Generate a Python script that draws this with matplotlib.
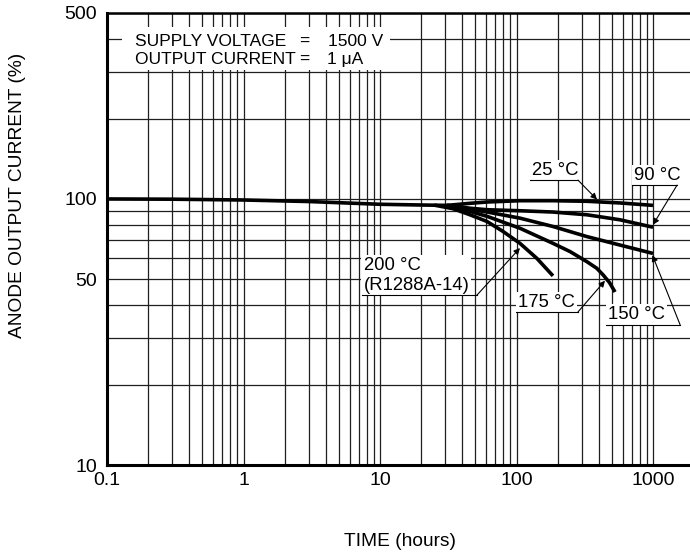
import numpy as np
import matplotlib
matplotlib.use("Agg")
import matplotlib.pyplot as plt
from matplotlib.patches import Rectangle

plt.rcParams['font.family'] = ['Liberation Sans', 'DejaVu Sans']

# common part of all curves (hours, % of initial)
trunk_x = [0.1, 0.3, 1, 3, 10, 20, 31]
trunk_y = [100, 99.8, 99.1, 97.8, 95.5, 94.9, 94.6]

t25_x = [31, 45.6, 61, 106, 185, 328, 573, 1000]
t25_y = [94.6, 96.3, 97.4, 98.5, 98.5, 98.0, 96.6, 94.6]

t90_x = [31, 45.6, 61, 106, 185, 328, 573, 1000]
t90_y = [94.6, 92.3, 91.1, 90.3, 89.3, 87.2, 83.5, 78.3]

t150_x = [31, 45.6, 61, 106, 185, 328, 573, 1000]
t150_y = [94.6, 91.5, 89.3, 84.7, 78.8, 72.2, 67.1, 62.4]

t175_x = [31, 45.6, 61, 106, 185, 247, 328, 387, 430, 480, 527]
t175_y = [94.6, 89.8, 86.0, 77.6, 68.1, 63.4, 58.1, 54.9, 51.9, 48.5, 44.7]

t200_x = [25, 34.3, 45.6, 60.8, 79.6, 106, 141, 185]
t200_y = [94.8, 91.9, 87.2, 82.3, 75.5, 68.1, 59.8, 51.4]

x_ticks = [0.1, 1, 10, 100, 1000]
x_ticklabels = ["0.1", "1", "10", "100", "1000"]
y_ticks = [10, 50, 100, 500]
y_ticklabels = ["10", "50", "100", "500"]

FS = 12.5       # conditions text
FS_TICK = 14
FS_AX = 13.8
FS_LAB = 13.3   # curve labels

fig = plt.figure(figsize=(6.9, 5.54), dpi=100)
ax = fig.add_axes([107 / 690, 89 / 554, 583 / 690, 452 / 554])
ax.set_xscale("log")
ax.set_yscale("log")

# grid lines on every 1..9 subdivision
ax.set_xticks(x_ticks)
ax.set_xticklabels(x_ticklabels, fontsize=FS_TICK)
ax.set_xticks([m * 10.0 ** e for e in range(-1, 4) for m in range(2, 10)], minor=True)
ax.set_yticks(y_ticks)
ax.set_yticklabels(y_ticklabels, fontsize=FS_TICK)
ax.set_yticks([20, 30, 40, 60, 70, 80, 90, 200, 300, 400], minor=True)
ax.yaxis.set_minor_formatter(matplotlib.ticker.NullFormatter())
ax.xaxis.set_minor_formatter(matplotlib.ticker.NullFormatter())
ax.set_xlim(0.1, 10 ** (3 + 37 / 136.5))
ax.set_ylim(10, 500)
ax.tick_params(which="both", length=0)
ax.tick_params(axis="x", pad=5)
ax.tick_params(axis="y", pad=7)
ax.grid(which="both", color="0.12", lw=0.9)
ax.set_axisbelow(True)

for s in ["left", "bottom"]:
    ax.spines[s].set_linewidth(2.2)
ax.spines["top"].set_linewidth(1.8)
ax.spines["right"].set_visible(False)

curve_kw = dict(color="black", lw=2.6, solid_capstyle="butt", solid_joinstyle="round", zorder=4)
ax.plot(trunk_x, trunk_y, **curve_kw)
for xs, ys in [(t25_x, t25_y), (t90_x, t90_y), (t150_x, t150_y),
               (t175_x, t175_y), (t200_x, t200_y)]:
    ax.plot(xs, ys, **curve_kw)

# conditions box
ax.add_patch(Rectangle((0.026, 0.874), 0.46, 0.095, transform=ax.transAxes,
                       facecolor="white", edgecolor="none", zorder=2))
tr = ax.transAxes
ax.text(0.048, 0.937, "SUPPLY VOLTAGE", transform=tr, fontsize=FS, va="center", zorder=3)
ax.text(0.048, 0.897, "OUTPUT CURRENT", transform=tr, fontsize=FS, va="center", zorder=3)
ax.text(0.330, 0.937, "=", transform=tr, fontsize=FS, va="center", zorder=3)
ax.text(0.330, 0.897, "=", transform=tr, fontsize=FS, va="center", zorder=3)
ax.text(0.379, 0.937, "1500 V", transform=tr, fontsize=FS, va="center", zorder=3)
ax.text(0.377, 0.897, "1 \u03bcA", transform=tr, fontsize=FS, va="center", zorder=3)


def on_curve(xs, ys, x):
    return 10 ** np.interp(np.log10(x), np.log10(xs), np.log10(ys))


def label(text, x0, x1, yu, target):
    # text sitting on an underline, leader from the underline end to the curve
    ax.text(x0 * 1.03, yu * 1.012, text, fontsize=FS_LAB, ha="left", va="bottom",
            zorder=5, bbox=dict(facecolor="white", edgecolor="none", pad=1.5))
    ax.plot([x0, x1], [yu, yu], color="black", lw=0.8, zorder=5)
    ax.annotate("", xy=target, xytext=(x1, yu), zorder=5,
                arrowprops=dict(arrowstyle="-|>", color="black", lw=0.8,
                                mutation_scale=9, shrinkA=0, shrinkB=0))


label("25 \u00b0C", 125.6, 282, 117.7, (389, on_curve(t25_x, t25_y, 389) * 1.02))
label("90 \u00b0C", 702, 1500, 112.7, (1000, 80.0))
label("150 \u00b0C", 453, 1578, 33.7, (990, 61.5))
label("175 \u00b0C", 99, 282, 37.6, (445, on_curve(t175_x, t175_y, 445) * 0.97))
label("200 \u00b0C\n(R1288A-14)", 7.35, 51.1, 43.4, (106, on_curve(t200_x, t200_y, 106) * 0.96))

fig.text(18 / 690, 1 - 195 / 554, "ANODE OUTPUT CURRENT (%)", rotation=90,
         ha="center", va="center", fontsize=FS_AX)
fig.text(400 / 690, 1 - 542 / 554, "TIME (hours)", ha="center", va="center", fontsize=FS_AX)

fig.savefig("out.png", dpi=100)
